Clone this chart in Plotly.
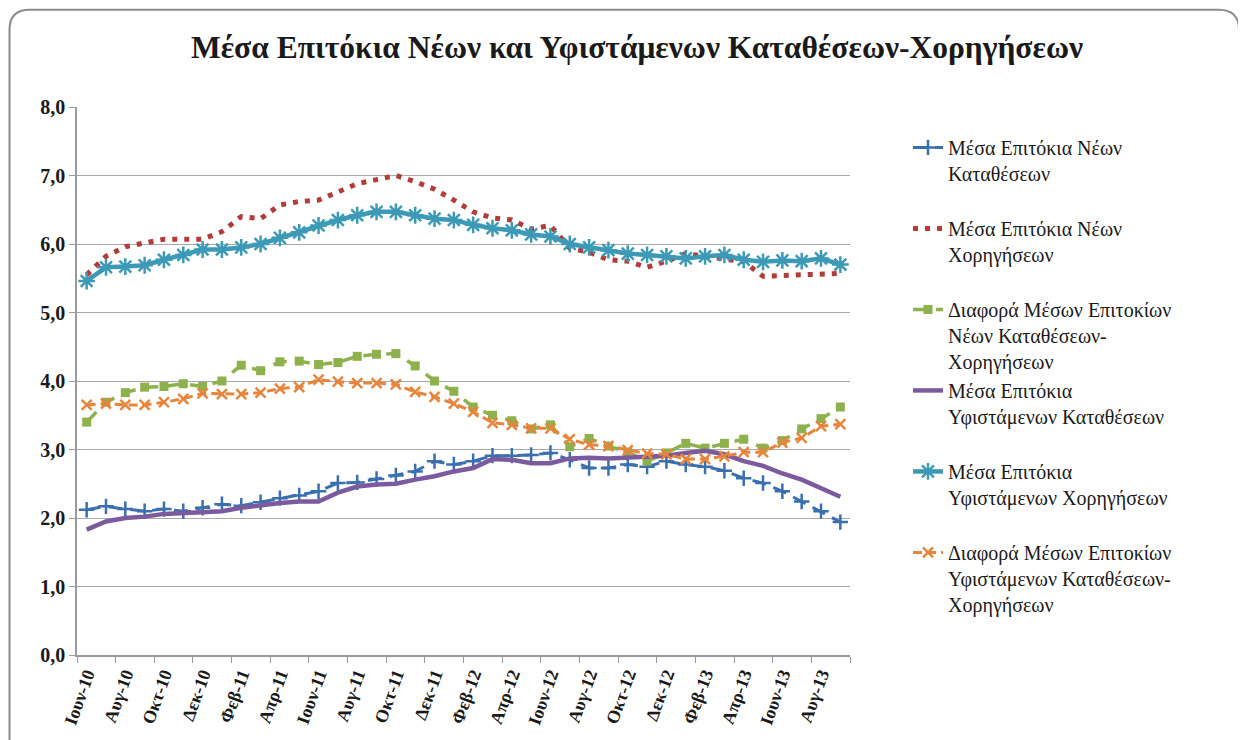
import plotly.graph_objects as go

# months on the category axis
months = ["Ιουν-10", "Ιουλ-10", "Αυγ-10", "Σεπ-10", "Οκτ-10", "Νοε-10", "Δεκ-10",
          "Ιαν-11", "Φεβ-11", "Μαρ-11", "Απρ-11", "Μαϊ-11", "Ιουν-11", "Ιουλ-11",
          "Αυγ-11", "Σεπ-11", "Οκτ-11", "Νοε-11", "Δεκ-11", "Ιαν-12", "Φεβ-12",
          "Μαρ-12", "Απρ-12", "Μαϊ-12", "Ιουν-12", "Ιουλ-12", "Αυγ-12", "Σεπ-12",
          "Οκτ-12", "Νοε-12", "Δεκ-12", "Ιαν-13", "Φεβ-13", "Μαρ-13", "Απρ-13",
          "Μαϊ-13", "Ιουν-13", "Ιουλ-13", "Αυγ-13", "Σεπ-13"]

new_deposits = [2.12, 2.17, 2.13, 2.10, 2.13, 2.10, 2.15, 2.20, 2.18, 2.23, 2.29, 2.33, 2.39,
                2.51, 2.52, 2.57, 2.62, 2.68, 2.83, 2.78, 2.83, 2.91, 2.91, 2.92, 2.95, 2.85, 2.73,
                2.73, 2.78, 2.75, 2.83, 2.78, 2.75, 2.69, 2.58, 2.51, 2.39, 2.24, 2.10, 1.94]

new_loans = [5.55, 5.82, 5.96, 6.02, 6.07, 6.07, 6.07, 6.18, 6.40, 6.37, 6.57, 6.62, 6.64,
             6.76, 6.88, 6.94, 7.00, 6.91, 6.80, 6.64, 6.47, 6.38, 6.35, 6.22, 6.27, 5.94, 5.88,
             5.77, 5.75, 5.66, 5.75, 5.86, 5.82, 5.77, 5.74, 5.53, 5.54, 5.54, 5.55, 5.57]

new_spread = [3.40, 3.69, 3.83, 3.91, 3.92, 3.96, 3.92, 4.00, 4.23, 4.15, 4.28, 4.29, 4.24,
              4.27, 4.36, 4.39, 4.40, 4.22, 4.00, 3.85, 3.62, 3.50, 3.42, 3.30, 3.36, 3.04, 3.16,
              3.05, 2.96, 2.83, 2.95, 3.09, 3.02, 3.09, 3.15, 3.02, 3.13, 3.30, 3.45, 3.62]

existing_deposits = [1.83, 1.95, 2.00, 2.02, 2.06, 2.07, 2.08, 2.10, 2.15, 2.19, 2.22, 2.24, 2.24,
                     2.37, 2.46, 2.49, 2.50, 2.56, 2.61, 2.68, 2.73, 2.86, 2.85, 2.80, 2.80, 2.87, 2.88,
                     2.87, 2.88, 2.89, 2.91, 2.95, 2.98, 2.93, 2.83, 2.76, 2.65, 2.56, 2.43, 2.31]

existing_loans = [5.46, 5.66, 5.67, 5.69, 5.77, 5.84, 5.92, 5.92, 5.95, 6.00, 6.09, 6.17, 6.27,
                  6.35, 6.42, 6.47, 6.47, 6.42, 6.37, 6.35, 6.28, 6.23, 6.20, 6.14, 6.11, 6.00, 5.95,
                  5.91, 5.86, 5.84, 5.82, 5.79, 5.82, 5.84, 5.77, 5.74, 5.76, 5.75, 5.79, 5.70]

existing_spread = [3.65, 3.67, 3.65, 3.65, 3.69, 3.74, 3.82, 3.81, 3.81, 3.83, 3.89, 3.91, 4.02,
                   3.99, 3.97, 3.97, 3.95, 3.84, 3.77, 3.67, 3.55, 3.39, 3.36, 3.31, 3.31, 3.15, 3.07,
                   3.05, 2.99, 2.94, 2.93, 2.86, 2.86, 2.90, 2.96, 2.96, 3.10, 3.17, 3.34, 3.37]

NB = "\u00a0"
names = ["Μέσα Επιτόκια Νέων<br>Καταθέσεων<br>" + NB,
         "Μέσα Επιτόκια Νέων<br>Χορηγήσεων<br>" + NB,
         "Διαφορά Μέσων Επιτοκίων<br>Νέων Καταθέσεων-<br>Χορηγήσεων",
         "Μέσα Επιτόκια<br>Υφιστάμενων Καταθέσεων<br>" + NB,
         "Μέσα Επιτόκια<br>Υφιστάμενων Χορηγήσεων<br>" + NB,
         "Διαφορά Μέσων Επιτοκίων<br>Υφιστάμενων Καταθέσεων-<br>Χορηγήσεων"]

SERIF = "Liberation Serif, Times New Roman, serif"
OFF = 8  # page body margin in the browser
W, H = 1246 - OFF, 740 - OFF
L, T = 77 - OFF, 107 - OFF
PW, PH = 773, 550
R, B = W - L - PW, H - T - PH

fig = go.Figure()

# new deposits - long dash with plus markers
fig.add_trace(go.Scatter(
    x=months, y=new_deposits, name=names[0], mode="lines+markers",
    line=dict(color="#3a6fb0", width=3, dash="14px,8px"),
    marker=dict(symbol="cross-thin", size=11, line=dict(color="#3a6fb0", width=2.5))
))
# new loans - dotted
fig.add_trace(go.Scatter(
    x=months, y=new_loans, name=names[1], mode="lines",
    line=dict(color="#b23c3a", width=5, dash="5px,7px")
))
# spread of new rates - dashed with squares
fig.add_trace(go.Scatter(
    x=months, y=new_spread, name=names[2], mode="lines+markers",
    line=dict(color="#8db14c", width=3.5, dash="14px,9px"),
    marker=dict(symbol="square", size=9, color="#8db14c")
))
# existing deposits - solid purple
fig.add_trace(go.Scatter(
    x=months, y=existing_deposits, name=names[3], mode="lines",
    line=dict(color="#7b5a9e", width=4.5)
))
# existing loans - solid teal with asterisks
fig.add_trace(go.Scatter(
    x=months, y=existing_loans, name=names[4], mode="lines+markers",
    line=dict(color="#3d9ab6", width=4.5),
    marker=dict(symbol="asterisk-open", size=14, line=dict(color="#3d9ab6", width=2.5))
))
# spread of existing rates - dashed with x markers
fig.add_trace(go.Scatter(
    x=months, y=existing_spread, name=names[5], mode="lines+markers",
    line=dict(color="#e6853b", width=3, dash="9px,5px"),
    marker=dict(symbol="x-thin", size=10, line=dict(color="#e6853b", width=2.5))
))


# reference-picture pixels -> paper coordinates
def px_x(p):
    return (p - OFF - L) / PW


def px_y(p):
    return (T + PH - (p - OFF)) / PH


# rounded outer frame
x0, x1, y0, y1, r = 9.5, 1239, 9.5, 790, 20
path = (f"M {px_x(x0 + r)},{px_y(y0)} L {px_x(x1 - r)},{px_y(y0)} "
        f"Q {px_x(x1)},{px_y(y0)} {px_x(x1)},{px_y(y0 + r)} "
        f"L {px_x(x1)},{px_y(y1 - r)} Q {px_x(x1)},{px_y(y1)} {px_x(x1 - r)},{px_y(y1)} "
        f"L {px_x(x0 + r)},{px_y(y1)} Q {px_x(x0)},{px_y(y1)} {px_x(x0)},{px_y(y1 - r)} "
        f"L {px_x(x0)},{px_y(y0 + r)} Q {px_x(x0)},{px_y(y0)} {px_x(x0 + r)},{px_y(y0)} Z")

fig.update_layout(
    width=W, height=H,
    margin=dict(l=L, r=R, t=T, b=B),
    paper_bgcolor="white", plot_bgcolor="white",
    separators=",.",
    font=dict(family=SERIF, color="#1a1a1a"),
    title=dict(text="<b>Μέσα Επιτόκια Νέων και Υφιστάμενων Καταθέσεων-Χορηγήσεων</b>",
               x=px_x(637), xref="paper", xanchor="center",
               y=1 - (47 - OFF) / H, yanchor="middle",
               font=dict(family=SERIF, size=31.5, color="#1a1a1a")),
    xaxis=dict(type="category", categoryorder="array", categoryarray=months,
               range=[-0.5, len(months) - 0.5],
               tickmode="linear", tick0=0, dtick=2, tickson="boundaries",
               ticks="outside", ticklen=6, tickcolor="#9a9a9a",
               tickangle=-70, showgrid=False, showline=True, linecolor="#9a9a9a", linewidth=1.5,
               tickfont=dict(family=SERIF, size=18, color="#1a1a1a", weight="bold")),
    yaxis=dict(range=[0, 8], dtick=1, tickformat=".1f",
               showgrid=True, gridcolor="#a8a8a8", gridwidth=1.3,
               showline=True, linecolor="#9a9a9a", linewidth=1.5,
               ticks="outside", ticklen=6, tickcolor="#9a9a9a", zeroline=False,
               tickfont=dict(family=SERIF, size=20, color="#1a1a1a", weight="bold")),
    legend=dict(x=px_x(908), xanchor="left", y=px_y(128), yanchor="top",
                valign="top", itemwidth=30, tracegroupgap=0,
                font=dict(family=SERIF, size=20, color="#1a1a1a"),
                bgcolor="rgba(0,0,0,0)"),
    shapes=[dict(type="path", xref="paper", yref="paper", path=path,
                 line=dict(color="#8c8c8c", width=2), fillcolor="rgba(0,0,0,0)", layer="below")],
)

fig.write_html("out.html")
